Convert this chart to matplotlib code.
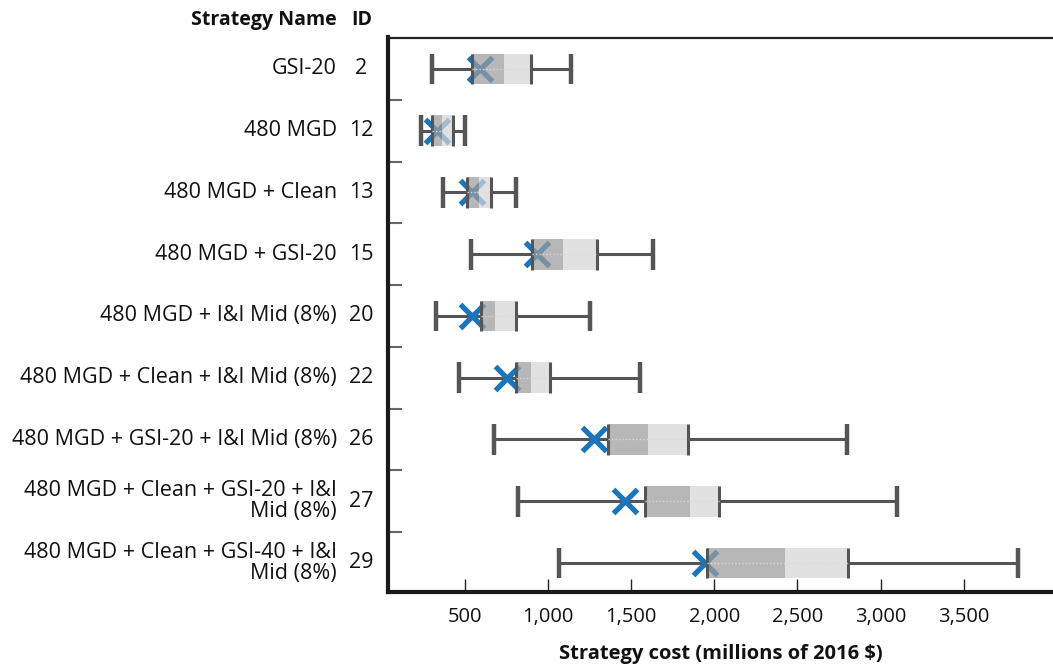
import matplotlib
matplotlib.use("Agg")
import matplotlib.pyplot as plt
from matplotlib.ticker import FixedLocator, FuncFormatter

plt.rcParams['font.family'] = ['Open Sans', 'DejaVu Sans']

names = ["GSI-20", "480 MGD", "480 MGD + Clean", "480 MGD + GSI-20",
         "480 MGD + I&I Mid (8%)", "480 MGD + Clean + I&I Mid (8%)",
         "480 MGD + GSI-20 + I&I Mid (8%)",
         "480 MGD + Clean + GSI-20 + I&I\nMid (8%)",
         "480 MGD + Clean + GSI-40 + I&I\nMid (8%)"]
ids = ["2", "12", "13", "15", "20", "22", "26", "27", "29"]

low    = [300, 233, 369, 534, 326, 464, 675, 820, 1066]
q1     = [540, 300, 510, 901, 596, 807, 1361, 1584, 1957]
median = [735, 363, 586, 1091, 681, 897, 1600, 1856, 2425]
q3     = [897, 430, 655, 1292, 805, 1011, 1842, 2028, 2805]
high   = [1138, 500, 805, 1633, 1252, 1553, 2798, 3097, 3825]
mean   = [590, 333, 540, 931, 540, 751, 1273, 1465, 1941]

xticks = [500, 1000, 1500, 2000, 2500, 3000, 3500]

W, H = 1053, 667
fig = plt.figure(figsize=(W / 100, H / 100), dpi=100)
ax_l, ax_r, ax_t, ax_b = 388, 1053, 37.5, 592
ax = fig.add_axes([ax_l / W, (H - ax_b) / H, (ax_r - ax_l) / W, (ax_b - ax_t) / H])

ypos = list(range(len(names)))
bh = 0.5
# semi-transparent fills that blend with white to roughly #b5b5b5 / #e0e0e0
dark = (156/255, 156/255, 156/255, 0.72)
light = (214/255, 214/255, 214/255, 0.72)
wcol = '#555555'
y0 = [y - bh / 2 for y in ypos]
y1 = [y + bh / 2 for y in ypos]

ax.hlines(ypos, low, q1, color=wcol, lw=2.2, zorder=1)
ax.hlines(ypos, q3, high, color=wcol, lw=2.2, zorder=1)
ax.hlines(ypos, q1, q3, color='#d8d8d8', lw=1.0, linestyle=(0, (1, 1.5)), zorder=5)
ax.vlines(low, y0, y1, color=wcol, lw=3.2, zorder=1)
ax.vlines(high, y0, y1, color=wcol, lw=3.2, zorder=1)
ax.plot(mean, ypos, linestyle='none', marker='x', markersize=17, markeredgewidth=3.8,
        color='#1a75bb', zorder=2)
ax.barh(ypos, [m - a for m, a in zip(median, q1)], left=q1, height=bh, color=dark,
        edgecolor='none', zorder=3)
ax.barh(ypos, [b - m for m, b in zip(median, q3)], left=median, height=bh, color=light,
        edgecolor='none', zorder=3)
ax.vlines(q1, y0, y1, color=wcol, lw=2.2, zorder=4)
ax.vlines(q3, y0, y1, color=wcol, lw=2.2, zorder=4)

ax.set_xlim(36, 4038)
ax.set_ylim(len(names) - 0.53, -0.51)

ax.xaxis.set_major_locator(FixedLocator(xticks))
ax.xaxis.set_major_formatter(FuncFormatter(lambda v, p: f"{int(v):,}"))
ax.tick_params(axis='x', direction='in', length=9.5, width=1.0, color='#222222',
               labelsize=14.5, pad=11, labelcolor='#111111')
ax.set_yticks([])
ax.yaxis.set_minor_locator(FixedLocator([i + 0.5 for i in range(len(names) - 1)]))
ax.tick_params(axis='y', which='minor', direction='in', length=10, width=1.5, color='#666666')

ax.spines['right'].set_visible(False)
ax.spines['left'].set_linewidth(3)
ax.spines['bottom'].set_linewidth(3)
ax.spines['left'].set_color('#1a1a1a')
ax.spines['bottom'].set_color('#1a1a1a')
ax.spines['top'].set_linewidth(1.6)
ax.spines['top'].set_color('#222222')

tr = ax.get_yaxis_transform()
name_x = (337 - ax_l) / (ax_r - ax_l)
id_x = (361.5 - ax_l) / (ax_r - ax_l)
for y, n, i in zip(ypos, names, ids):
    ax.text(name_x, y, n, transform=tr, ha='right', va='center', fontsize=15.5,
            color='#111111', linespacing=0.98)
    ax.text(id_x, y, i, transform=tr, ha='center', va='center', fontsize=15.5, color='#111111')

fig.text(337 / W, 1 - 20 / H, "Strategy Name", ha='right', va='center', fontsize=14,
         fontweight='bold', color='#111111')
fig.text(361.5 / W, 1 - 20 / H, "ID", ha='center', va='center', fontsize=14,
         fontweight='bold', color='#111111')
fig.text(721 / W, 1 - 654 / H, "Strategy cost (millions of 2016 $)", ha='center', va='center',
         fontsize=14.5, fontweight='bold', color='#111111')

fig.savefig("out.png", dpi=100)
